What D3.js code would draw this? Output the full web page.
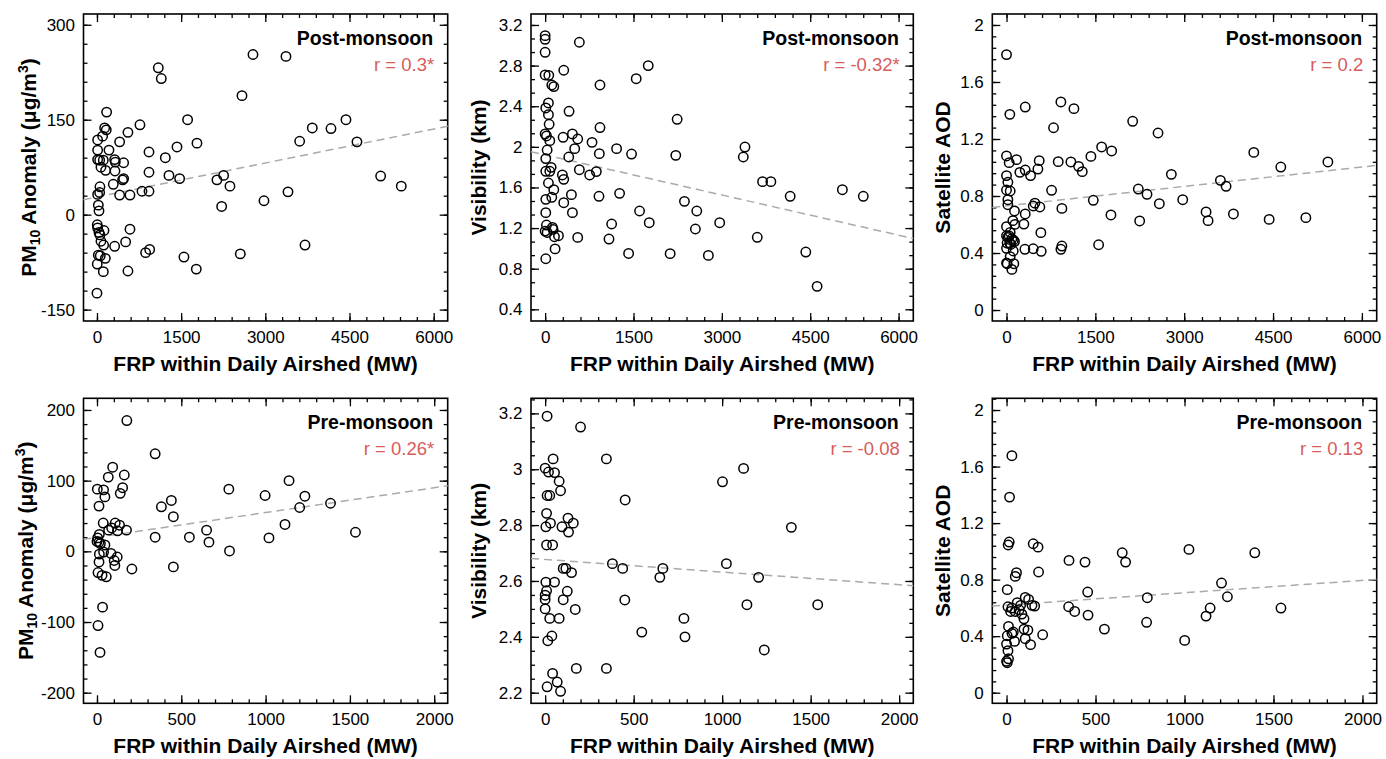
<!DOCTYPE html>
<html>
<head>
<meta charset="utf-8">
<script src="https://cdn.jsdelivr.net/npm/d3@7"></script>
<style>
  body { margin: 0; background: #fff; }
  svg text { font-family: "Liberation Sans", Arial, sans-serif; }
</style>
</head>
<body>
<div id="chart"></div>
<script>
// [FRP (MW), value]
const postPM10 = [[1093,232],[1146,215],[2780,253],[3368,250],[2584,188],[172,162],[1615,150],[4437,150],[766,142],[3837,137],[4170,136],[137,137],[166,134],[552,130],[101,124],[12,118],[404,115],[3612,116],[4633,115],[1782,113],[1426,107],[12,102],[214,102],[927,99],[1218,90],[12,87],[48,86],[113,86],[71,75],[154,70],[315,87],[327,83],[475,82],[321,69],[927,67],[1283,62],[1473,57],[2138,55],[2257,62],[2370,45],[291,48],[475,57],[457,55],[53,44],[48,35],[12,32],[24,15],[36,6],[404,31],[588,31],[802,37],[927,37],[2222,13],[2976,22],[3404,36],[5055,61],[5423,45],[5,-16],[12,-21],[125,-25],[36,-28],[53,-32],[71,-42],[119,-48],[315,-50],[511,-43],[588,-23],[867,-60],[939,-55],[1550,-67],[1770,-86],[24,-64],[59,-65],[5,-78],[149,-69],[113,-90],[552,-89],[0,-124],[3707,-48],[2554,-62]];
const postVis = [[0,3.095],[0,3.059],[0,2.931],[581,3.03],[0,2.708],[62,2.704],[316,2.754],[113,2.609],[147,2.593],[931,2.609],[1750,2.80],[1546,2.671],[56,2.432],[11,2.383],[56,2.317],[68,2.222],[406,2.35],[2241,2.271],[0,2.127],[23,2.107],[79,2.061],[305,2.094],[463,2.127],[553,2.077],[796,2.044],[931,2.19],[34,1.969],[502,1.982],[1213,1.982],[1467,1.929],[920,1.933],[2218,1.916],[3392,1.998],[3364,1.90],[11,1.884],[401,1.9],[102,1.798],[11,1.759],[79,1.759],[581,1.775],[293,1.723],[316,1.68],[756,1.723],[869,1.756],[3691,1.657],[3832,1.657],[56,1.644],[147,1.578],[113,1.503],[11,1.483],[446,1.529],[914,1.513],[1264,1.542],[4160,1.513],[5046,1.578],[5401,1.513],[316,1.45],[2365,1.463],[11,1.352],[463,1.352],[1603,1.368],[2574,1.368],[1767,1.253],[2963,1.253],[1129,1.24],[2551,1.191],[23,1.23],[0,1.17],[34,1.157],[124,1.207],[135,1.187],[158,1.115],[226,1.125],[553,1.108],[1084,1.092],[3601,1.109],[169,0.995],[11,0.898],[1417,0.95],[2122,0.948],[2771,0.931],[4425,0.964],[4617,0.626]];
const postAOD = [[0,1.792],[56,1.373],[316,1.424],[918,1.46],[1138,1.413],[794,1.279],[2130,1.324],[2558,1.242],[1606,1.144],[1775,1.116],[1425,1.078],[4175,1.106],[4631,1.003],[5426,1.039],[873,1.041],[1087,1.039],[1217,1.008],[1279,0.971],[530,0.989],[552,1.048],[169,1.055],[225,0.966],[316,0.982],[406,0.943],[2783,0.952],[761,0.84],[2225,0.849],[2372,0.812],[3611,0.91],[3707,0.868],[1465,0.77],[2580,0.746],[2975,0.774],[451,0.73],[479,0.75],[563,0.723],[935,0.713],[316,0.674],[293,0.603],[135,0.695],[1763,0.667],[3369,0.688],[3403,0.627],[2248,0.625],[3831,0.674],[4434,0.636],[5054,0.648],[580,0.543],[1555,0.458],[935,0.449],[918,0.426],[310,0.426],[451,0.43],[586,0.412],[0,1.081],[45,1.034],[0,0.943],[23,0.896],[0,0.842],[62,0.835],[23,0.774],[23,0.739],[107,0.627],[141,0.601],[0,0.585],[0,0.52],[23,0.51],[45,0.52],[90,0.50],[115,0.49],[135,0.48],[10,0.47],[55,0.47],[70,0.46],[0,0.433],[113,0.414],[62,0.374],[0,0.33],[11,0.325],[124,0.325],[90,0.285],[62,0.545]];
const prePM10 = [[177,185],[345,138],[93,119],[67,105],[162,108],[2,88],[39,87],[47,77],[152,90],[138,82],[12,64],[441,72],[382,63],[453,49],[782,88],[1139,100],[997,79],[1233,78],[1385,68],[1202,62],[1115,38],[650,30],[664,13],[548,20],[345,20],[1020,19],[1533,27],[786,0.5],[453,-22],[207,-25],[37,40],[69,30],[87,33],[108,40],[134,37],[122,29],[175,30],[14,24],[4,19],[0,14],[12,13],[20,11],[47,9],[14,-4],[39,-1],[83,-3],[120,-8],[102,-13],[106,-20],[12,-15],[6,-30],[30,-34],[55,-36],[33,-79],[6,-105],[18,-143]];
const preVis = [[11,3.19],[200,3.151],[346,3.037],[1121,3.003],[1002,2.955],[452,2.89],[1391,2.792],[380,2.662],[438,2.645],[665,2.645],[648,2.613],[1024,2.662],[1206,2.613],[1140,2.515],[1540,2.515],[450,2.532],[546,2.417],[784,2.466],[790,2.40],[1238,2.353],[346,2.287],[176,2.287],[170,2.498],[149,2.63],[45,3.037],[0,3.004],[19,2.99],[53,2.988],[79,2.957],[87,2.923],[11,2.906],[26,2.906],[8,2.842],[30,2.807],[4,2.794],[129,2.825],[159,2.807],[95,2.794],[132,2.775],[8,2.729],[42,2.729],[102,2.645],[117,2.645],[4,2.596],[53,2.596],[8,2.565],[0,2.549],[0,2.534],[125,2.563],[102,2.533],[0,2.5],[26,2.466],[79,2.466],[38,2.403],[15,2.386],[42,2.269],[68,2.238],[11,2.221],[87,2.205]];
const preAOD = [[30,1.677],[17,1.384],[1025,1.014],[1395,0.99],[650,0.99],[669,0.924],[351,0.936],[441,0.924],[456,0.712],[349,0.608],[383,0.575],[458,0.549],[550,0.45],[791,0.672],[787,0.498],[1001,0.37],[1208,0.776],[1241,0.679],[1144,0.599],[1121,0.542],[1542,0.599],[15,1.066],[9,1.045],[150,1.054],[177,1.03],[56,0.849],[49,0.823],[180,0.854],[4,0.729],[105,0.674],[124,0.66],[8,0.608],[23,0.575],[30,0.599],[60,0.637],[79,0.618],[143,0.618],[158,0.613],[49,0.575],[86,0.556],[98,0.523],[71,0.587],[11,0.469],[98,0.45],[120,0.443],[4,0.403],[30,0.42],[38,0.429],[45,0.363],[105,0.382],[135,0.34],[203,0.41],[0,0.344],[8,0.297],[11,0.24],[0,0.222],[4,0.212]];

// fitted lines [intercept, slope], and correlation labels
const fits = [[27.9, 0.0179], [1.921, -0.0001318], [0.731, 0.0000454], [19.8, 0.03507], [2.677, -0.0000452], [0.620, 0.0000873]];
const rLabels = ["r = 0.3*", "r = -0.32*", "r = 0.2", "r = 0.26*", "r = -0.08", "r = 0.13"];
const seasons = ["Post-monsoon", "Post-monsoon", "Post-monsoon", "Pre-monsoon", "Pre-monsoon", "Pre-monsoon"];

const postXTicks = [0, 1500, 3000, 4500, 6000];
const preXTicks = [0, 500, 1000, 1500, 2000];
const pmPostYTicks = [-150, 0, 150, 300];
const pmPreYTicks = [-200, -100, 0, 100, 200];
const visPostYTicks = [0.4, 0.8, 1.2, 1.6, 2, 2.4, 2.8, 3.2];
const visPreYTicks = [2.2, 2.4, 2.6, 2.8, 3, 3.2];
const aodYTicks = [0, 0.4, 0.8, 1.2, 1.6, 2];

const svg = d3.select("#chart").append("svg")
    .attr("width", 1386)
    .attr("height", 759);

const cols = [[83.5, 447.7], [531, 913.3], [992.3, 1376.7]];
const rows = [[14, 321], [398.3, 703.3]];
const red = "#d75c5c";

const panels = [
    { data: postPM10, col: 0, row: 0, xd: [-240, 6250], xt: postXTicks, xm: 300, yd: [-168, 317], yt: pmPostYTicks, ym: 30, title: "pm", off: 48 },
    { data: postVis, col: 1, row: 0, xd: [-240, 6250], xt: postXTicks, xm: 300, yd: [0.285, 3.308], yt: visPostYTicks, ym: 0.4 / 3, title: "Visibility (km)", off: 45 },
    { data: postAOD, col: 2, row: 0, xd: [-240, 6250], xt: postXTicks, xm: 300, yd: [-0.077, 2.077], yt: aodYTicks, ym: 0.08, title: "Satellite AOD", off: 42 },
    { data: prePM10, col: 0, row: 1, xd: [-80, 2080], xt: preXTicks, xm: 100, yd: [-215, 216.5], yt: pmPreYTicks, ym: 20, title: "pm", off: 51 },
    { data: preVis, col: 1, row: 1, xd: [-80, 2080], xt: preXTicks, xm: 100, yd: [2.162, 3.254], yt: visPreYTicks, ym: 0.05, title: "Visibility (km)", off: 45 },
    { data: preAOD, col: 2, row: 1, xd: [-80, 2080], xt: preXTicks, xm: 100, yd: [-0.075, 2.083], yt: aodYTicks, ym: 0.08, title: "Satellite AOD", off: 42 }
];

function minorTicks(domain, step) {
    const out = [];
    const start = Math.ceil(domain[0] / step - 1e-6);
    for (let k = start; k * step <= domain[1] + 1e-9; k++) out.push(k * step);
    return out;
}

function styleAxis(g) {
    g.select(".domain").remove();
    g.selectAll("line").attr("stroke", "#000").attr("stroke-width", 1.3);
    g.attr("font-size", 17).attr("font-family", null);
    g.selectAll("text").attr("fill", "#000");
}

panels.forEach((p, i) => {
    const [x0, x1] = cols[p.col];
    const [y0, y1] = rows[p.row];
    const x = d3.scaleLinear().domain(p.xd).range([x0, x1]);
    const y = d3.scaleLinear().domain(p.yd).range([y1, y0]);
    const g = svg.append("g");
    const fmt = d => String(+d.toFixed(2));
    const xMinor = minorTicks(p.xd, p.xm);
    const yMinor = minorTicks(p.yd, p.ym);

    // minor ticks on all four sides
    g.append("g").attr("transform", `translate(0,${y1})`)
        .call(d3.axisBottom(x).tickValues(xMinor).tickSize(-4).tickFormat("")).call(styleAxis);
    g.append("g").attr("transform", `translate(0,${y0})`)
        .call(d3.axisTop(x).tickValues(xMinor).tickSize(-4).tickFormat("")).call(styleAxis);
    g.append("g").attr("transform", `translate(${x0},0)`)
        .call(d3.axisLeft(y).tickValues(yMinor).tickSize(-4).tickFormat("")).call(styleAxis);
    g.append("g").attr("transform", `translate(${x1},0)`)
        .call(d3.axisRight(y).tickValues(yMinor).tickSize(-4).tickFormat("")).call(styleAxis);

    // major ticks
    g.append("g").attr("transform", `translate(0,${y1})`)
        .call(d3.axisBottom(x).tickValues(p.xt).tickSize(-8).tickPadding(10).tickFormat(fmt)).call(styleAxis);
    g.append("g").attr("transform", `translate(0,${y0})`)
        .call(d3.axisTop(x).tickValues(p.xt).tickSize(-8).tickFormat("")).call(styleAxis);
    g.append("g").attr("transform", `translate(${x0},0)`)
        .call(d3.axisLeft(y).tickValues(p.yt).tickSize(-8).tickPadding(8.5).tickFormat(fmt)).call(styleAxis);
    g.append("g").attr("transform", `translate(${x1},0)`)
        .call(d3.axisRight(y).tickValues(p.yt).tickSize(-8).tickFormat("")).call(styleAxis);

    g.append("rect")
        .attr("x", x0).attr("y", y0)
        .attr("width", x1 - x0).attr("height", y1 - y0)
        .attr("fill", "none").attr("stroke", "#000").attr("stroke-width", 1.6);

    // fitted line
    const [a, b] = fits[i];
    g.append("line")
        .attr("x1", x(p.xd[0])).attr("y1", y(a + b * p.xd[0]))
        .attr("x2", x(p.xd[1])).attr("y2", y(a + b * p.xd[1]))
        .attr("stroke", "#aaaaaa").attr("stroke-width", 1.5)
        .attr("stroke-dasharray", "8,5");

    g.selectAll("circle.pt")
        .data(p.data)
        .enter().append("circle")
        .attr("class", "pt")
        .attr("cx", d => x(d[0]))
        .attr("cy", d => y(d[1]))
        .attr("r", 4.7)
        .attr("fill", "none")
        .attr("stroke", "#000")
        .attr("stroke-width", 1.5);

    // labels in corner
    g.append("text")
        .attr("x", x1 - 14.5).attr("y", y0 + 30.5)
        .attr("text-anchor", "end")
        .attr("font-size", 19.5).attr("font-weight", "bold")
        .text(seasons[i]);
    g.append("text")
        .attr("x", x1 - 13.5).attr("y", y0 + 56.5)
        .attr("text-anchor", "end")
        .attr("font-size", 18.5).attr("fill", red)
        .text(rLabels[i]);

    // axis titles
    g.append("text")
        .attr("x", (x0 + x1) / 2).attr("y", y1 + 50)
        .attr("text-anchor", "middle")
        .attr("font-size", 21).attr("font-weight", "bold")
        .text("FRP within Daily Airshed (MW)");

    const yt = g.append("text")
        .attr("transform", `translate(${x0 - p.off},${(y0 + y1) / 2}) rotate(-90)`)
        .attr("text-anchor", "middle")
        .attr("font-size", 21).attr("font-weight", "bold");
    if (p.title === "pm") {
        yt.append("tspan").text("PM");
        yt.append("tspan").attr("font-size", 14).attr("dy", 4).text("10");
        yt.append("tspan").attr("dy", -4).text(" Anomaly (μg/m");
        yt.append("tspan").attr("font-size", 14).attr("dy", -8).text("3");
        yt.append("tspan").attr("dy", 8).text(")");
    } else {
        yt.text(p.title);
    }
});
</script>
</body>
</html>
